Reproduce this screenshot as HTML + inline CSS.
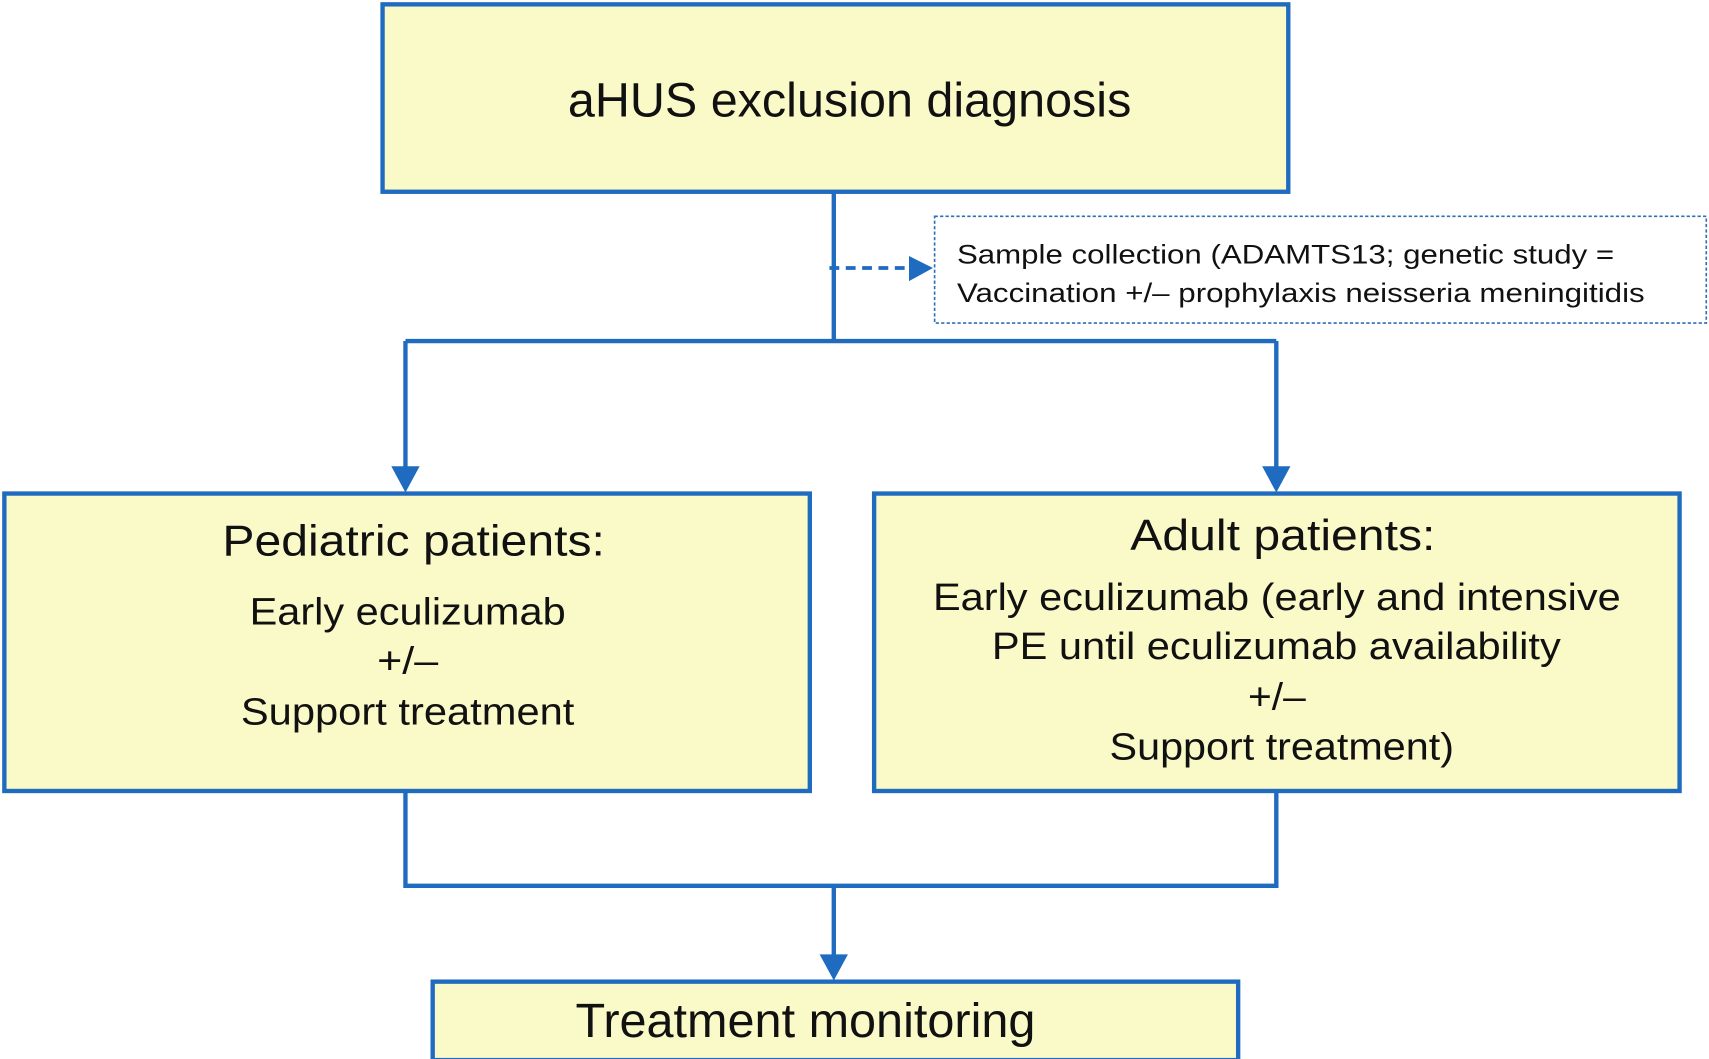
<!DOCTYPE html>
<html><head><meta charset="utf-8"><style>
html,body{margin:0;padding:0;background:#fff;width:1709px;height:1059px;overflow:hidden}
svg{display:block}
text{font-family:"Liberation Sans",Arial,sans-serif;fill:#111}
</style></head><body>
<svg width="1709" height="1059" viewBox="0 0 1568 972" preserveAspectRatio="none" xmlns="http://www.w3.org/2000/svg">
<defs>
<marker id="ah" markerWidth="10" markerHeight="10" refX="9" refY="5" orient="auto" markerUnits="userSpaceOnUse"><path d="M0,0 L10,5 L0,10 Z" fill="#1f6bbf"/></marker>
</defs>
<g stroke="#1f6bbf" stroke-width="4" fill="#fafac8">
<rect x="351" y="4" width="831" height="172"/>
<rect x="4" y="453" width="739" height="273"/>
<rect x="802" y="453" width="739" height="273"/>
<rect x="397" y="901" width="739" height="72"/>
</g>
<rect x="857.5" y="198.5" width="708" height="98" fill="#fff" stroke="#2f6fb5" stroke-width="1.5" stroke-dasharray="3,2"/>
<g stroke="#1f6bbf" stroke-width="4" fill="none">
<path d="M765 176 V313 M372 313 H1171 M372 313 V430 M1171 313 V430"/>
<path d="M372 726 V813 H1171 V726 M765 813 V878"/>
<path d="M761 246 H836" stroke-width="3.5" stroke-dasharray="9,6"/>
</g>
<g fill="#1f6bbf">
<path d="M359 428 L385 428 L372 452 Z"/>
<path d="M1158 428 L1184 428 L1171 452 Z"/>
<path d="M752 876 L778 876 L765 900 Z"/>
<path d="M834 235 L856 246 L834 258 Z"/>
</g>
<text x="521" y="107" font-size="44" textLength="517" lengthAdjust="spacingAndGlyphs">aHUS exclusion diagnosis</text>
<text x="878" y="242" font-size="25" textLength="603" lengthAdjust="spacingAndGlyphs">Sample collection (ADAMTS13; genetic study =</text>
<text x="878" y="277" font-size="25" textLength="631" lengthAdjust="spacingAndGlyphs">Vaccination +/– prophylaxis neisseria meningitidis</text>
<text x="204" y="510" font-size="40" textLength="351" lengthAdjust="spacingAndGlyphs">Pediatric patients:</text>
<text x="229" y="573" font-size="35" textLength="290" lengthAdjust="spacingAndGlyphs">Early eculizumab</text>
<text x="346" y="618" font-size="35" textLength="56" lengthAdjust="spacingAndGlyphs">+/–</text>
<text x="221" y="665" font-size="35" textLength="306" lengthAdjust="spacingAndGlyphs">Support treatment</text>
<text x="1037" y="505" font-size="40" textLength="280" lengthAdjust="spacingAndGlyphs">Adult patients:</text>
<text x="856" y="560" font-size="35" textLength="631" lengthAdjust="spacingAndGlyphs">Early eculizumab (early and intensive</text>
<text x="910" y="605" font-size="35" textLength="522" lengthAdjust="spacingAndGlyphs">PE until eculizumab availability</text>
<text x="1145" y="651" font-size="35" textLength="53" lengthAdjust="spacingAndGlyphs">+/–</text>
<text x="1018" y="697" font-size="35" textLength="316" lengthAdjust="spacingAndGlyphs">Support treatment)</text>
<text x="528" y="952" font-size="44" textLength="422" lengthAdjust="spacingAndGlyphs">Treatment monitoring</text>
</svg>
</body></html>
